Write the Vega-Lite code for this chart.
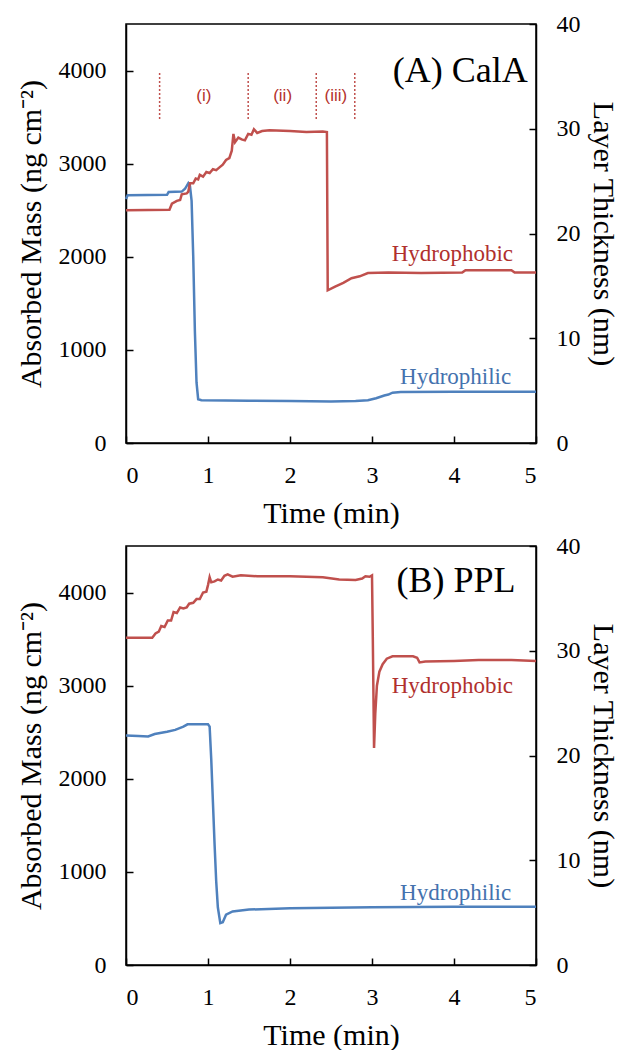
{
  "$schema": "https://vega.github.io/schema/vega-lite/v6.json",
  "padding": {"left": 15, "top": 11, "right": 5, "bottom": 5},
  "spacing": 4,
  "config": {
    "font": "Liberation Serif",
    "view": {"stroke": "black", "strokeWidth": 1.5},
    "axis": {
      "grid": false, "domainColor": "black", "tickColor": "black", "labelColor": "black", "titleColor": "black",
      "labelFont": "Liberation Serif", "titleFont": "Liberation Serif", "labelFontSize": 24, "titleFontSize": 30,
      "titleFontWeight": "normal", "tickSize": -7, "domainWidth": 1.5, "tickWidth": 1.5, "labelPadding": 27, "format": "d"
    }
  },
  "datasets": {
    "A": [
      {"t": 0, "m": 2620, "s": "philic"}, {"t": 0.02, "m": 2660, "s": "philic"}, {"t": 0.5, "m": 2665, "s": "philic"},
      {"t": 0.52, "m": 2695, "s": "philic"}, {"t": 0.68, "m": 2700, "s": "philic"}, {"t": 0.72, "m": 2730, "s": "philic"},
      {"t": 0.76, "m": 2790, "s": "philic"}, {"t": 0.78, "m": 2760, "s": "philic"}, {"t": 0.8, "m": 2600, "s": "philic"},
      {"t": 0.82, "m": 2000, "s": "philic"}, {"t": 0.84, "m": 1200, "s": "philic"}, {"t": 0.86, "m": 650, "s": "philic"},
      {"t": 0.88, "m": 470, "s": "philic"}, {"t": 0.92, "m": 460, "s": "philic"}, {"t": 1.5, "m": 455, "s": "philic"},
      {"t": 2.0, "m": 450, "s": "philic"}, {"t": 2.5, "m": 445, "s": "philic"}, {"t": 2.8, "m": 450, "s": "philic"},
      {"t": 2.95, "m": 460, "s": "philic"}, {"t": 3.05, "m": 480, "s": "philic"}, {"t": 3.15, "m": 510, "s": "philic"},
      {"t": 3.2, "m": 520, "s": "philic"}, {"t": 3.25, "m": 540, "s": "philic"}, {"t": 3.35, "m": 548, "s": "philic"},
      {"t": 4.0, "m": 550, "s": "philic"}, {"t": 5.0, "m": 550, "s": "philic"},
      {"t": 0, "m": 2500, "s": "phobic"}, {"t": 0.53, "m": 2505, "s": "phobic"}, {"t": 0.56, "m": 2570, "s": "phobic"},
      {"t": 0.62, "m": 2600, "s": "phobic"}, {"t": 0.66, "m": 2610, "s": "phobic"}, {"t": 0.68, "m": 2670, "s": "phobic"},
      {"t": 0.74, "m": 2680, "s": "phobic"}, {"t": 0.76, "m": 2700, "s": "phobic"}, {"t": 0.78, "m": 2790, "s": "phobic"},
      {"t": 0.82, "m": 2790, "s": "phobic"}, {"t": 0.85, "m": 2840, "s": "phobic"}, {"t": 0.88, "m": 2830, "s": "phobic"},
      {"t": 0.9, "m": 2880, "s": "phobic"}, {"t": 0.94, "m": 2860, "s": "phobic"}, {"t": 0.98, "m": 2910, "s": "phobic"},
      {"t": 1.02, "m": 2900, "s": "phobic"}, {"t": 1.06, "m": 2940, "s": "phobic"}, {"t": 1.1, "m": 2930, "s": "phobic"},
      {"t": 1.14, "m": 2960, "s": "phobic"}, {"t": 1.18, "m": 2990, "s": "phobic"}, {"t": 1.22, "m": 3040, "s": "phobic"},
      {"t": 1.26, "m": 3060, "s": "phobic"}, {"t": 1.29, "m": 3140, "s": "phobic"}, {"t": 1.31, "m": 3320, "s": "phobic"},
      {"t": 1.33, "m": 3230, "s": "phobic"}, {"t": 1.37, "m": 3280, "s": "phobic"}, {"t": 1.41, "m": 3260, "s": "phobic"},
      {"t": 1.45, "m": 3250, "s": "phobic"}, {"t": 1.49, "m": 3320, "s": "phobic"}, {"t": 1.53, "m": 3310, "s": "phobic"},
      {"t": 1.56, "m": 3370, "s": "phobic"}, {"t": 1.6, "m": 3330, "s": "phobic"}, {"t": 1.66, "m": 3350, "s": "phobic"},
      {"t": 1.75, "m": 3360, "s": "phobic"}, {"t": 2.0, "m": 3350, "s": "phobic"}, {"t": 2.2, "m": 3340, "s": "phobic"},
      {"t": 2.4, "m": 3345, "s": "phobic"}, {"t": 2.45, "m": 3340, "s": "phobic"}, {"t": 2.46, "m": 1640, "s": "phobic"},
      {"t": 2.55, "m": 1680, "s": "phobic"}, {"t": 2.65, "m": 1720, "s": "phobic"}, {"t": 2.75, "m": 1770, "s": "phobic"},
      {"t": 2.85, "m": 1790, "s": "phobic"}, {"t": 2.95, "m": 1825, "s": "phobic"}, {"t": 3.2, "m": 1830, "s": "phobic"},
      {"t": 3.6, "m": 1825, "s": "phobic"}, {"t": 4.1, "m": 1830, "s": "phobic"}, {"t": 4.14, "m": 1855, "s": "phobic"},
      {"t": 4.7, "m": 1855, "s": "phobic"}, {"t": 4.74, "m": 1830, "s": "phobic"}, {"t": 5.0, "m": 1830, "s": "phobic"}
    ],
    "B": [
      {"t": 0, "m": 2465, "s": "philic"}, {"t": 0.15, "m": 2460, "s": "philic"}, {"t": 0.27, "m": 2455, "s": "philic"},
      {"t": 0.35, "m": 2480, "s": "philic"}, {"t": 0.5, "m": 2505, "s": "philic"}, {"t": 0.6, "m": 2525, "s": "philic"},
      {"t": 0.7, "m": 2560, "s": "philic"}, {"t": 0.75, "m": 2585, "s": "philic"}, {"t": 1.0, "m": 2585, "s": "philic"},
      {"t": 1.02, "m": 2560, "s": "philic"}, {"t": 1.04, "m": 2200, "s": "philic"}, {"t": 1.06, "m": 1750, "s": "philic"},
      {"t": 1.08, "m": 1300, "s": "philic"}, {"t": 1.1, "m": 900, "s": "philic"}, {"t": 1.12, "m": 620, "s": "philic"},
      {"t": 1.15, "m": 450, "s": "philic"}, {"t": 1.18, "m": 460, "s": "philic"}, {"t": 1.22, "m": 540, "s": "philic"},
      {"t": 1.3, "m": 575, "s": "philic"}, {"t": 1.5, "m": 595, "s": "philic"}, {"t": 2.0, "m": 610, "s": "philic"},
      {"t": 3.0, "m": 620, "s": "philic"}, {"t": 4.0, "m": 625, "s": "philic"}, {"t": 5.0, "m": 625, "s": "philic"},
      {"t": 0, "m": 3515, "s": "phobic"}, {"t": 0.32, "m": 3515, "s": "phobic"}, {"t": 0.36, "m": 3560, "s": "phobic"},
      {"t": 0.4, "m": 3580, "s": "phobic"}, {"t": 0.43, "m": 3640, "s": "phobic"}, {"t": 0.47, "m": 3630, "s": "phobic"},
      {"t": 0.51, "m": 3700, "s": "phobic"}, {"t": 0.55, "m": 3700, "s": "phobic"}, {"t": 0.58, "m": 3790, "s": "phobic"},
      {"t": 0.62, "m": 3780, "s": "phobic"}, {"t": 0.66, "m": 3840, "s": "phobic"}, {"t": 0.7, "m": 3830, "s": "phobic"},
      {"t": 0.74, "m": 3840, "s": "phobic"}, {"t": 0.77, "m": 3880, "s": "phobic"}, {"t": 0.82, "m": 3890, "s": "phobic"},
      {"t": 0.86, "m": 3930, "s": "phobic"}, {"t": 0.9, "m": 3930, "s": "phobic"}, {"t": 0.94, "m": 4000, "s": "phobic"},
      {"t": 0.98, "m": 4010, "s": "phobic"}, {"t": 1.0, "m": 4080, "s": "phobic"}, {"t": 1.02, "m": 4165, "s": "phobic"},
      {"t": 1.04, "m": 4110, "s": "phobic"}, {"t": 1.08, "m": 4120, "s": "phobic"}, {"t": 1.12, "m": 4140, "s": "phobic"},
      {"t": 1.16, "m": 4130, "s": "phobic"}, {"t": 1.2, "m": 4180, "s": "phobic"}, {"t": 1.24, "m": 4195, "s": "phobic"},
      {"t": 1.3, "m": 4170, "s": "phobic"}, {"t": 1.4, "m": 4185, "s": "phobic"}, {"t": 1.6, "m": 4175, "s": "phobic"},
      {"t": 2.0, "m": 4175, "s": "phobic"}, {"t": 2.4, "m": 4165, "s": "phobic"}, {"t": 2.6, "m": 4140, "s": "phobic"},
      {"t": 2.8, "m": 4135, "s": "phobic"}, {"t": 2.88, "m": 4150, "s": "phobic"}, {"t": 2.92, "m": 4175, "s": "phobic"},
      {"t": 2.97, "m": 4170, "s": "phobic"}, {"t": 3.0, "m": 4185, "s": "phobic"}, {"t": 3.01, "m": 3500, "s": "phobic"},
      {"t": 3.025, "m": 2330, "s": "phobic"}, {"t": 3.04, "m": 2700, "s": "phobic"}, {"t": 3.06, "m": 3000, "s": "phobic"},
      {"t": 3.09, "m": 3150, "s": "phobic"}, {"t": 3.13, "m": 3230, "s": "phobic"}, {"t": 3.18, "m": 3290, "s": "phobic"},
      {"t": 3.25, "m": 3315, "s": "phobic"}, {"t": 3.5, "m": 3315, "s": "phobic"}, {"t": 3.55, "m": 3300, "s": "phobic"},
      {"t": 3.58, "m": 3250, "s": "phobic"}, {"t": 3.65, "m": 3260, "s": "phobic"}, {"t": 4.0, "m": 3265, "s": "phobic"},
      {"t": 4.3, "m": 3275, "s": "phobic"}, {"t": 4.7, "m": 3275, "s": "phobic"}, {"t": 5.0, "m": 3265, "s": "phobic"}
    ],
    "rulesA": [
      {"t": 0.41, "y1": 3480, "y2": 3980}, {"t": 1.49, "y1": 3480, "y2": 3980},
      {"t": 2.32, "y1": 3480, "y2": 3980}, {"t": 2.79, "y1": 3480, "y2": 3980}
    ],
    "phasesA": [
      {"t": 0.95, "m": 3730, "label": "(i)"}, {"t": 1.91, "m": 3730, "label": "(ii)"}, {"t": 2.56, "m": 3730, "label": "(iii)"}
    ],
    "labelsA": [
      {"t": 3.98, "m": 2030, "label": "Hydrophobic", "s": "phobic"},
      {"t": 4.02, "m": 710, "label": "Hydrophilic", "s": "philic"}
    ],
    "labelsB": [
      {"t": 3.98, "m": 3000, "label": "Hydrophobic", "s": "phobic"},
      {"t": 4.02, "m": 770, "label": "Hydrophilic", "s": "philic"}
    ],
    "titleA": [{"t": 4.9, "m": 3990, "label": "(A) CalA"}],
    "titleB": [{"t": 4.75, "m": 4120, "label": "(B) PPL"}],
    "thick": [{"th": 0}, {"th": 40}]
  },
  "vconcat": [
    {
      "width": 410, "height": 419,
      "resolve": {"scale": {"y": "independent"}},
      "layer": [
        {
          "layer": [
            {
              "data": {"name": "A"},
              "mark": {"type": "line", "strokeWidth": 2.5},
              "encoding": {
                "x": {"field": "t", "type": "quantitative", "scale": {"domain": [0, 5], "nice": false},
                      "axis": {"values": [0, 1, 2, 3, 4, 5], "title": "Time (min)", "titlePadding": 11}},
                "y": {"field": "m", "type": "quantitative", "scale": {"domain": [0, 4500], "nice": false},
                      "axis": {"values": [0, 1000, 2000, 3000, 4000], "title": "Absorbed Mass (ng cm⁻²)", "titlePadding": 12}},
                "color": {"field": "s", "type": "nominal", "scale": {"domain": ["philic", "phobic"], "range": ["#4F81BD", "#C0504D"]}, "legend": null},
                "detail": {"field": "s"}
              }
            },
            {
              "data": {"name": "rulesA"},
              "mark": {"type": "rule", "color": "#C0504D", "strokeWidth": 1.5, "strokeDash": [2, 2]},
              "encoding": {"x": {"field": "t", "type": "quantitative"}, "y": {"field": "y1", "type": "quantitative"}, "y2": {"field": "y2"}}
            },
            {
              "data": {"name": "phasesA"},
              "mark": {"type": "text", "font": "Liberation Sans", "fontSize": 17, "color": "#B5312C"},
              "encoding": {"x": {"field": "t", "type": "quantitative"}, "y": {"field": "m", "type": "quantitative"}, "text": {"field": "label"}}
            },
            {
              "data": {"name": "labelsA"},
              "transform": [{"filter": "datum.s === 'phobic'"}],
              "mark": {"type": "text", "font": "Liberation Serif", "fontSize": 23, "color": "#B0302D"},
              "encoding": {"x": {"field": "t", "type": "quantitative"}, "y": {"field": "m", "type": "quantitative"}, "text": {"field": "label"}}
            },
            {
              "data": {"name": "labelsA"},
              "transform": [{"filter": "datum.s === 'philic'"}],
              "mark": {"type": "text", "font": "Liberation Serif", "fontSize": 23, "color": "#4472AE"},
              "encoding": {"x": {"field": "t", "type": "quantitative"}, "y": {"field": "m", "type": "quantitative"}, "text": {"field": "label"}}
            },
            {
              "data": {"name": "titleA"},
              "mark": {"type": "text", "font": "Liberation Serif", "fontSize": 36, "align": "right", "color": "black"},
              "encoding": {"x": {"field": "t", "type": "quantitative"}, "y": {"field": "m", "type": "quantitative"}, "text": {"field": "label"}}
            }
          ]
        },
        {
          "data": {"name": "thick"},
          "mark": {"type": "point", "opacity": 0},
          "encoding": {
            "y": {"field": "th", "type": "quantitative", "scale": {"domain": [0, 40], "nice": false},
                  "axis": {"orient": "right", "values": [0, 10, 20, 30, 40], "title": "Layer Thickness (nm)", "titlePadding": 7}}
          }
        }
      ]
    },
    {
      "width": 410, "height": 419,
      "resolve": {"scale": {"y": "independent"}},
      "layer": [
        {
          "layer": [
            {
              "data": {"name": "B"},
              "mark": {"type": "line", "strokeWidth": 2.5},
              "encoding": {
                "x": {"field": "t", "type": "quantitative", "scale": {"domain": [0, 5], "nice": false},
                      "axis": {"values": [0, 1, 2, 3, 4, 5], "title": "Time (min)", "titlePadding": 11}},
                "y": {"field": "m", "type": "quantitative", "scale": {"domain": [0, 4500], "nice": false},
                      "axis": {"values": [0, 1000, 2000, 3000, 4000], "title": "Absorbed Mass (ng cm⁻²)", "titlePadding": 12}},
                "color": {"field": "s", "type": "nominal", "scale": {"domain": ["philic", "phobic"], "range": ["#4F81BD", "#C0504D"]}, "legend": null},
                "detail": {"field": "s"}
              }
            },
            {
              "data": {"name": "labelsB"},
              "transform": [{"filter": "datum.s === 'phobic'"}],
              "mark": {"type": "text", "font": "Liberation Serif", "fontSize": 23, "color": "#B0302D"},
              "encoding": {"x": {"field": "t", "type": "quantitative"}, "y": {"field": "m", "type": "quantitative"}, "text": {"field": "label"}}
            },
            {
              "data": {"name": "labelsB"},
              "transform": [{"filter": "datum.s === 'philic'"}],
              "mark": {"type": "text", "font": "Liberation Serif", "fontSize": 23, "color": "#4472AE"},
              "encoding": {"x": {"field": "t", "type": "quantitative"}, "y": {"field": "m", "type": "quantitative"}, "text": {"field": "label"}}
            },
            {
              "data": {"name": "titleB"},
              "mark": {"type": "text", "font": "Liberation Serif", "fontSize": 36, "align": "right", "color": "black"},
              "encoding": {"x": {"field": "t", "type": "quantitative"}, "y": {"field": "m", "type": "quantitative"}, "text": {"field": "label"}}
            }
          ]
        },
        {
          "data": {"name": "thick"},
          "mark": {"type": "point", "opacity": 0},
          "encoding": {
            "y": {"field": "th", "type": "quantitative", "scale": {"domain": [0, 40], "nice": false},
                  "axis": {"orient": "right", "values": [0, 10, 20, 30, 40], "title": "Layer Thickness (nm)", "titlePadding": 7}}
          }
        }
      ]
    }
  ]
}
